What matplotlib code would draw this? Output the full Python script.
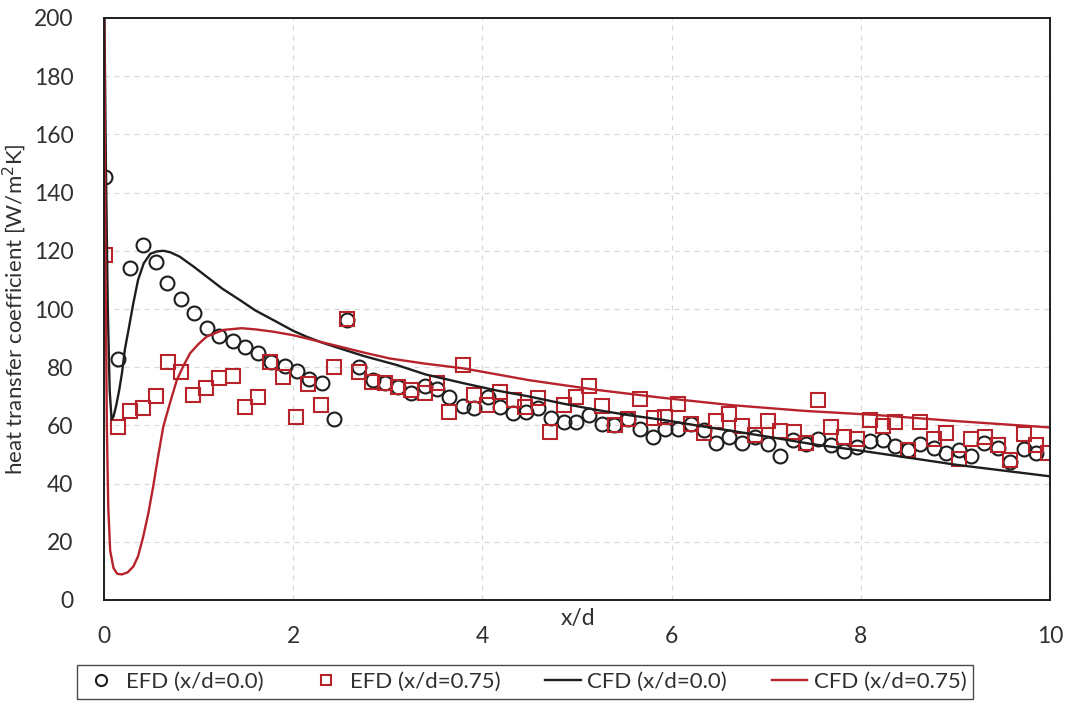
import matplotlib
matplotlib.use("Agg")
import matplotlib.pyplot as plt

plt.rcParams["font.family"] = ["Lato", "DejaVu Sans"]

efd0_x = [0.01, 0.145, 0.275, 0.415, 0.55, 0.67, 0.81, 0.95, 1.085, 1.22,
          1.36, 1.49, 1.63, 1.77, 1.91, 2.04, 2.17, 2.30, 2.43, 2.565,
          2.70, 2.84, 2.97, 3.11, 3.25, 3.39, 3.52, 3.65, 3.79, 3.91,
          4.06, 4.19, 4.32, 4.46, 4.59, 4.72, 4.86, 4.99, 5.13, 5.26,
          5.39, 5.54, 5.67, 5.80, 5.93, 6.07, 6.20, 6.34, 6.47, 6.61,
          6.74, 6.88, 7.02, 7.15, 7.28, 7.42, 7.55, 7.68, 7.82, 7.96,
          8.10, 8.23, 8.36, 8.50, 8.63, 8.77, 8.90, 9.04, 9.17, 9.30,
          9.45, 9.58, 9.72, 9.85]
efd0_y = [145.5, 82.7, 114.0, 122.0, 116.0, 108.8, 103.4, 98.5, 93.4, 90.8,
          89.1, 87.0, 84.8, 81.9, 80.5, 78.8, 75.8, 74.7, 62.1, 96.3,
          80.2, 75.6, 74.5, 73.1, 71.0, 73.5, 72.4, 69.7, 66.7, 65.9,
          69.7, 66.4, 64.4, 64.7, 65.9, 62.4, 61.3, 61.3, 63.6, 60.5,
          60.1, 62.1, 58.7, 56.1, 58.7, 58.7, 60.5, 58.4, 53.8, 55.9,
          54.1, 55.9, 53.5, 49.6, 55.0, 53.5, 55.2, 53.3, 51.3, 52.5,
          54.8, 55.0, 52.9, 51.5, 53.6, 52.1, 50.6, 51.5, 49.5, 53.8,
          52.1, 47.5, 51.8, 50.6]

efd75_x = [0.01, 0.145, 0.275, 0.41, 0.545, 0.68, 0.81, 0.944, 1.08, 1.22,
           1.36, 1.49, 1.63, 1.76, 1.895, 2.03, 2.16, 2.29, 2.43, 2.565,
           2.70, 2.83, 2.97, 3.11, 3.24, 3.39, 3.52, 3.65, 3.79, 3.91,
           4.05, 4.19, 4.33, 4.45, 4.59, 4.71, 4.86, 4.99, 5.13, 5.26,
           5.40, 5.54, 5.67, 5.81, 5.93, 6.07, 6.21, 6.34, 6.47, 6.61,
           6.74, 6.88, 7.02, 7.15, 7.29, 7.42, 7.55, 7.68, 7.82, 7.96,
           8.10, 8.23, 8.36, 8.50, 8.63, 8.77, 8.90, 9.04, 9.17, 9.31,
           9.45, 9.58, 9.72, 9.85, 9.98]
efd75_y = [118.6, 59.3, 65.0, 66.0, 70.2, 81.9, 78.5, 70.4, 72.7, 76.4,
           77.1, 66.2, 69.7, 81.9, 76.7, 62.8, 74.2, 67.0, 80.2, 96.6,
           78.5, 75.0, 74.5, 73.1, 72.0, 71.0, 74.5, 64.5, 80.8, 70.4,
           67.0, 71.6, 68.7, 66.4, 69.3, 57.8, 67.0, 69.9, 73.5, 66.7,
           60.1, 62.3, 69.0, 62.6, 63.0, 67.5, 60.5, 57.5, 61.5, 63.9,
           59.8, 56.7, 61.6, 58.2, 57.8, 53.8, 68.7, 59.3, 55.9, 55.2,
           61.9, 59.8, 61.3, 51.5, 61.3, 55.2, 57.5, 48.3, 55.2, 55.9,
           53.3, 48.1, 57.0, 53.3, 50.6]

# ── CFD curves ───────────────────────────────────────────────────
cfd0_x = [0.0, 0.02, 0.04, 0.06, 0.08, 0.10, 0.13, 0.16, 0.19, 0.22,
          0.26, 0.31, 0.36, 0.42, 0.49, 0.56, 0.63, 0.70, 0.80, 0.95,
          1.09, 1.25, 1.44, 1.60, 1.79, 2.00, 2.14, 2.30, 2.49, 2.75,
          3.09, 3.40, 3.80, 4.15, 4.50, 4.85, 5.21, 5.55, 5.91, 6.30,
          6.62, 7.00, 7.50, 7.96, 8.59, 9.00, 9.50, 10.0]
cfd0_y = [215, 150, 100, 72, 62, 63, 67, 72, 78, 86,
          93, 102, 110, 115.7, 119, 119.8, 120, 119.5, 118, 114.5,
          111, 107, 103, 99.5, 96.2, 92.5, 90.5, 88.5, 86.5, 83.8,
          80.8, 77.5, 74.5, 72, 69.9, 67.5, 65.3, 63.5, 61.9, 59.8,
          58.2, 56.2, 53.5, 51.5, 48.5, 46.5, 44.5, 42.5]

cfd75_x = [0.0, 0.015, 0.03, 0.045, 0.065, 0.10, 0.14, 0.19, 0.25, 0.31,
           0.36, 0.415, 0.47, 0.52, 0.57, 0.627, 0.70, 0.77, 0.84, 0.91,
           1.00, 1.085, 1.26, 1.455, 1.60, 1.79, 2.00, 2.14, 2.49, 2.75,
           3.02, 3.40, 3.80, 4.50, 5.21, 5.90, 6.62, 7.40, 8.15, 9.00, 10.0]
cfd75_y = [215, 120, 60, 32, 17, 11, 9, 8.8, 9.5, 11.5,
           15, 21.8, 30, 39, 49, 59.6, 68, 75.6, 80.5, 84.8,
           88, 90.5, 92.8, 93.4, 93, 92.2, 91, 89.9, 87.1, 85,
           83, 81.2, 79.6, 75.5, 72.2, 69.5, 67, 65, 63.6, 61.5, 59.3]

BLACK = "#1e1e1e"
RED = "#b8232b"
TEXT = "#303030"

fig = plt.figure(figsize=(10.71, 7.04), dpi=100)
ax = fig.add_axes([104 / 1071, 1 - 600 / 704, (1050 - 104) / 1071, (600 - 18) / 704])

ax.plot(efd0_x, efd0_y, "o", ms=10, mfc="none", mec=BLACK, mew=1.5,
        label="EFD (x/d=0.0)")
ax.plot(efd75_x, efd75_y, "s", ms=9.5, mfc="none", mec=RED, mew=1.5,
        label="EFD (x/d=0.75)")
ax.plot(cfd0_x, cfd0_y, "-", color=BLACK, lw=1.7, label="CFD (x/d=0.0)")
ax.plot(cfd75_x, cfd75_y, "-", color=RED, lw=1.7, label="CFD (x/d=0.75)")

ax.set_xlim(0, 10)
ax.set_ylim(0, 200)
ax.set_xticks(range(0, 11, 2))
ax.set_yticks(range(0, 201, 20))
ax.tick_params(length=0, labelsize=16.5, labelcolor=TEXT)
ax.tick_params(axis="y", pad=22)
ax.tick_params(axis="x", pad=19)
ax.grid(True, color="#d8d8d8", ls=(0, (4, 4)), lw=0.9)
for sp in ax.spines.values():
    sp.set_color(BLACK)
    sp.set_linewidth(1.4)

ax.set_ylabel("heat transfer coefficient [W/m$^2$K]", fontsize=16,
              color=TEXT, labelpad=4)
fig.text(578 / 1071, 1 - 618 / 704, "x/d", fontsize=16.5, color=TEXT,
         ha="center", va="center")

leg = fig.legend(loc="center", bbox_to_anchor=(525 / 1071, 1 - 682 / 704),
                 ncol=4, fontsize=16, frameon=True, fancybox=False,
                 edgecolor=BLACK, handlelength=1.6, handletextpad=0.3,
                 columnspacing=2.0, borderpad=0.3, markerscale=0.8)
leg.get_frame().set_linewidth(1.0)
for t in leg.get_texts():
    t.set_color(TEXT)

fig.savefig("out.png", dpi=100)
